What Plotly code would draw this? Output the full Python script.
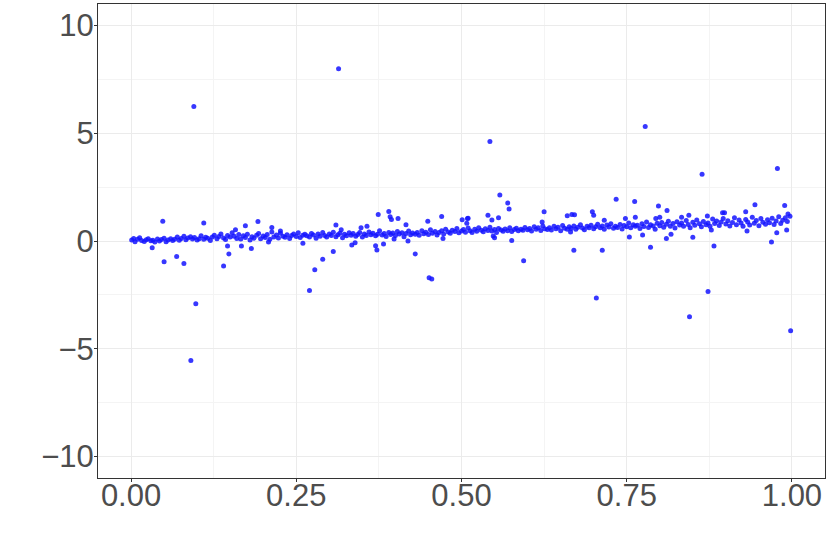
"""Scatter of residual-like values against a 0..1 predictor."""

import plotly.graph_objects as go


# dense band of points following a slow upward drift
band_x = [
    0.001, 0.004, 0.006, 0.010, 0.013, 0.016, 0.020, 0.023, 0.026, 0.030,
    0.033, 0.036, 0.040, 0.043, 0.046, 0.050, 0.053, 0.056, 0.060, 0.063,
    0.066, 0.070, 0.073, 0.076, 0.080, 0.083, 0.086, 0.090, 0.093, 0.096,
    0.100, 0.103, 0.106, 0.110, 0.113, 0.116, 0.120, 0.123, 0.126, 0.130,
    0.133, 0.136, 0.140, 0.143, 0.146, 0.150, 0.153, 0.156, 0.160, 0.163,
    0.166, 0.170, 0.173, 0.176, 0.180, 0.183, 0.186, 0.190, 0.193, 0.196,
    0.200, 0.203, 0.206, 0.210, 0.213, 0.216, 0.220, 0.223, 0.226, 0.230,
    0.233, 0.236, 0.240, 0.243, 0.246, 0.250, 0.253, 0.256, 0.260, 0.263,
    0.266, 0.270, 0.273, 0.276, 0.280, 0.283, 0.286, 0.290, 0.293, 0.296,
    0.300, 0.303, 0.306, 0.310, 0.313, 0.316, 0.320, 0.323, 0.326, 0.330,
    0.333, 0.336, 0.340, 0.343, 0.346, 0.350, 0.353, 0.356, 0.360, 0.363,
    0.366, 0.370, 0.373, 0.376, 0.380, 0.383, 0.386, 0.390, 0.393, 0.396,
    0.400, 0.403, 0.406, 0.410, 0.413, 0.416, 0.420, 0.423, 0.426, 0.430,
    0.433, 0.436, 0.440, 0.443, 0.446, 0.450, 0.453, 0.456, 0.460, 0.463,
    0.466, 0.470, 0.473, 0.476, 0.480, 0.483, 0.486, 0.490, 0.493, 0.496,
    0.500, 0.503, 0.506, 0.510, 0.513, 0.516, 0.520, 0.523, 0.526, 0.530,
    0.533, 0.536, 0.540, 0.543, 0.546, 0.550, 0.553, 0.556, 0.560, 0.563,
    0.566, 0.570, 0.573, 0.576, 0.580, 0.583, 0.586, 0.590, 0.593, 0.596,
    0.600, 0.603, 0.606, 0.610, 0.613, 0.616, 0.620, 0.623, 0.626, 0.630,
    0.633, 0.636, 0.640, 0.643, 0.646, 0.650, 0.653, 0.656, 0.660, 0.663,
    0.666, 0.670, 0.673, 0.676, 0.680, 0.683, 0.686, 0.690, 0.693, 0.696,
    0.700, 0.703, 0.706, 0.710, 0.713, 0.716, 0.720, 0.723, 0.726, 0.730,
    0.733, 0.736, 0.740, 0.743, 0.746, 0.750, 0.753, 0.756, 0.760, 0.763,
    0.766, 0.770, 0.773, 0.776, 0.780, 0.783, 0.786, 0.790, 0.793, 0.796,
    0.800, 0.803, 0.806, 0.810, 0.813, 0.816, 0.820, 0.823, 0.826, 0.830,
    0.833, 0.836, 0.840, 0.843, 0.846, 0.850, 0.853, 0.856, 0.860, 0.863,
    0.866, 0.870, 0.873, 0.876, 0.880, 0.883, 0.886, 0.890, 0.893, 0.896,
    0.900, 0.903, 0.906, 0.910, 0.913, 0.916, 0.920, 0.923, 0.926, 0.930,
    0.933, 0.936, 0.940, 0.943, 0.946, 0.950, 0.953, 0.956, 0.960, 0.963,
    0.966, 0.970, 0.973, 0.976, 0.980, 0.983, 0.986, 0.990, 0.993, 0.997,
]
band_y = [
    0.05, 0.12, -0.04, 0.08, 0.15, 0.02, -0.02, 0.06, 0.10, 0.01,
    0.04, -0.05, 0.09, 0.00, 0.07, 0.13, -0.03, 0.05, 0.11, 0.02,
    0.08, 0.18, 0.03, 0.12, 0.22, 0.06, 0.14, 0.20, 0.09, 0.16,
    0.05, 0.11, 0.24, 0.08, 0.17, 0.13, 0.02, 0.19, 0.27, 0.10,
    0.21, 0.33, 0.14, 0.07, 0.26, 0.18, 0.38, 0.22, 0.12, 0.30,
    0.09, 0.24, 0.16, 0.31, 0.05, 0.20, 0.13, 0.27, 0.35, 0.11,
    0.23, 0.16, 0.30, 0.08, 0.42, 0.19, 0.28, 0.14, 0.36, 0.22,
    0.17, 0.29, 0.12, 0.25, 0.33, 0.21, 0.38, 0.16, 0.27, 0.31,
    0.24, 0.19, 0.35, 0.28, 0.13, 0.32, 0.22, 0.40, 0.26, 0.18,
    0.33, 0.25, 0.41, 0.20, 0.29, 0.36, 0.15, 0.31, 0.24, 0.38,
    0.27, 0.35, 0.22, 0.30, 0.39, 0.18, 0.33, 0.26, 0.42, 0.29,
    0.36, 0.24, 0.31, 0.47, 0.28, 0.35, 0.21, 0.40, 0.30, 0.37,
    0.25, 0.44, 0.32, 0.38, 0.20, 0.35, 0.46, 0.29, 0.37, 0.31,
    0.40, 0.27, 0.48, 0.34, 0.41, 0.30, 0.52, 0.36, 0.44, 0.28,
    0.39, 0.47, 0.33, 0.55, 0.42, 0.36, 0.50, 0.44, 0.58, 0.38,
    0.46, 0.53, 0.41, 0.60, 0.48, 0.39, 0.55, 0.45, 0.62, 0.50,
    0.43, 0.57, 0.49, 0.64, 0.46, 0.53, 0.40, 0.58, 0.51, 0.45,
    0.56, 0.48, 0.61, 0.44, 0.53, 0.59, 0.47, 0.55, 0.50, 0.63,
    0.52, 0.58, 0.46, 0.66, 0.55, 0.61, 0.49, 0.70, 0.57, 0.53,
    0.62, 0.51, 0.68, 0.57, 0.64, 0.48, 0.72, 0.59, 0.54, 0.66,
    0.58, 0.70, 0.55, 0.64, 0.75, 0.60, 0.52, 0.68, 0.62, 0.73,
    0.57, 0.66, 0.78, 0.61, 0.70, 0.54, 0.74, 0.65, 0.80, 0.59,
    0.69, 0.63, 0.77, 0.56, 0.72, 0.66, 0.84, 0.61, 0.75, 0.68,
    0.73, 0.58, 0.80, 0.67, 0.88, 0.63, 0.76, 0.70, 0.55, 0.82,
    0.71, 0.86, 0.64, 0.78, 0.92, 0.69, 0.81, 0.60, 0.89, 0.74,
    0.83, 0.68, 0.95, 0.77, 0.62, 0.87, 0.73, 0.98, 0.80, 0.66,
    0.90, 0.76, 0.84, 0.69, 1.02, 0.81, 0.93, 0.72, 0.88, 1.05,
    0.79, 0.94, 0.70, 0.86, 1.08, 0.75, 0.97, 0.83, 0.68, 1.00,
    0.88, 0.74, 1.10, 0.82, 0.95, 0.71, 1.04, 0.87, 0.78, 0.99,
    0.85, 1.06, 0.77, 0.93, 1.12, 0.81, 0.96, 1.08, 0.90, 1.15,
]

# points that sit off the band
spread_x = [
    0.032, 0.048, 0.050, 0.069, 0.080, 0.0905, 0.095, 0.098, 0.110, 0.140,
    0.146, 0.148, 0.158, 0.167, 0.173, 0.182, 0.192, 0.208, 0.213, 0.226,
    0.260, 0.270, 0.278, 0.290, 0.306, 0.310, 0.314, 0.318, 0.334, 0.339,
    0.348, 0.357, 0.370, 0.372, 0.374, 0.382, 0.390, 0.392, 0.394, 0.398,
    0.404, 0.416, 0.419, 0.430, 0.449, 0.451, 0.455, 0.470, 0.472, 0.501,
    0.508, 0.509, 0.510, 0.540, 0.543, 0.546, 0.548, 0.550, 0.556, 0.558,
    0.570, 0.572, 0.576, 0.594, 0.622, 0.625, 0.660, 0.665, 0.667, 0.670,
    0.671, 0.698, 0.700, 0.704, 0.713, 0.716, 0.734, 0.748, 0.754, 0.762,
    0.763, 0.774, 0.778, 0.786, 0.794, 0.798, 0.800, 0.810, 0.811, 0.817,
    0.833, 0.844, 0.845, 0.850, 0.864, 0.872, 0.873, 0.878, 0.882, 0.895,
    0.898, 0.930, 0.932, 0.944, 0.969, 0.977, 0.978, 0.989, 0.992, 0.994,
    0.998,
]
spread_y = [
    -0.31, 0.92, -0.96, -0.72, -1.05, -5.55, 6.24, -2.91, 0.83, -1.16,
    -0.23, -0.60, 0.52, -0.23, 0.71, -0.35, 0.91, -0.05, 0.63, 0.46,
    -0.10, -2.30, -1.34, -0.85, -0.49, 0.74, 8.00, 0.52, -0.18, -0.08,
    0.62, 0.69, -0.22, -0.42, 1.23, -0.14, 1.37, 1.12, 1.00, 0.09,
    1.05, 0.75, 0.00, -0.60, 0.92, -1.70, -1.76, 1.14, 0.12, 0.99,
    0.82, 1.05, 1.06, 1.20, 4.62, 0.98, 0.23, 0.15, 1.08, 2.13,
    1.76, 1.48, 0.02, -0.92, 0.88, 1.36, 1.17, 0.42, 1.23, -0.43,
    1.22, 1.36, 1.19, -2.65, -0.43, 0.96, 1.94, 1.05, 0.18, 1.83,
    1.10, 0.28, 5.32, -0.29, 1.05, 1.63, 1.10, 0.12, 1.42, 0.31,
    1.10, 1.19, -3.52, 0.17, 3.10, 1.16, -2.34, 0.51, -0.23, 1.31,
    1.31, 1.36, 0.46, 1.68, -0.05, 0.38, 3.37, 1.65, 0.51, 1.25,
    -4.16,
]

x_ticks = [0.0, 0.25, 0.5, 0.75, 1.0]
y_ticks = [-10, -5, 0, 5, 10]

POINT_COLOR = "rgba(20, 20, 255, 0.85)"
TEXT_COLOR = "#4d4d4d"


fig = go.Figure()
fig.add_trace(
    go.Scatter(
        x=band_x + spread_x,
        y=band_y + spread_y,
        mode="markers",
        marker=dict(size=5, color=POINT_COLOR, line=dict(width=0)),
        showlegend=False,
    )
)

axis_common = dict(
    showline=True,
    mirror=True,
    linecolor="#333333",
    linewidth=1,
    ticks="outside",
    ticklen=3,
    tickwidth=1,
    tickcolor="#333333",
    gridcolor="#ebebeb",
    gridwidth=1,
    zeroline=False,
    automargin=False,
    tickfont=dict(family="Liberation Sans, Arial, sans-serif", size=31, color=TEXT_COLOR),
)

fig.update_xaxes(
    range=[-0.05, 1.05],
    tickvals=x_ticks,
    tickformat=".2f",
    ticklabelstandoff=-13,
    minor=dict(dtick=0.125, tick0=0, showgrid=True, gridcolor="#f4f4f4", gridwidth=1),
    **axis_common,
)
fig.update_yaxes(
    range=[-11, 11],
    tickvals=y_ticks,
    ticklabelstandoff=-6,
    minor=dict(dtick=2.5, tick0=0, showgrid=True, gridcolor="#f4f4f4", gridwidth=1),
    **axis_common,
)

fig.update_layout(
    width=830,
    height=554,
    margin=dict(l=98, r=5, t=4, b=76),
    paper_bgcolor="white",
    plot_bgcolor="white",
)

# drop the browser's default page margin so the figure sits at the corner
fig.write_html(
    "out.html",
    config={"displayModeBar": False},
    post_script="document.body.style.margin = '0';",
)
